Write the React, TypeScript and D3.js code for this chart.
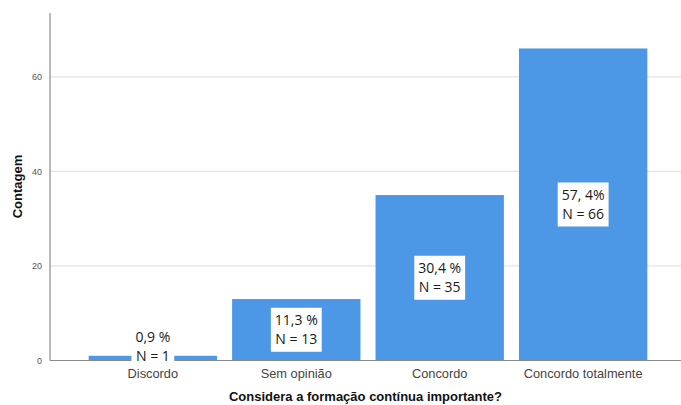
import { useEffect, useRef } from 'react';
import * as d3 from 'd3';

const categories = ['Discordo', 'Sem opinião', 'Concordo', 'Concordo totalmente'];
const counts = [1, 13, 35, 66];
const pctLabels = ['0,9 %', '11,3 %', '30,4 %', '57, 4%'];
const nLabels = ['N = 1', 'N = 13', 'N = 35', 'N = 66'];
const yTicks = [0, 20, 40, 60];

const App = () => {
  const svgRef = useRef<SVGSVGElement>(null);

  useEffect(() => {
    const width = 681;
    const height = 405;
    const svg = d3.select(svgRef.current).attr('width', width).attr('height', height);
    svg.selectAll('*').remove();

    const left = 50;
    const right = 681;
    const y = d3.scaleLinear().domain([0, 73.5]).range([360.5, 13]);
    const x = d3
      .scaleBand()
      .domain(categories)
      .range([81.5, 654.5])
      .paddingInner(0.105)
      .paddingOuter(0.05);

    // gridlines
    svg
      .selectAll('line.grid')
      .data(yTicks.filter((t) => t > 0))
      .enter()
      .append('line')
      .attr('x1', left)
      .attr('x2', right)
      .attr('y1', (d) => y(d))
      .attr('y2', (d) => y(d))
      .attr('stroke', '#e3e3e3')
      .attr('stroke-width', 1.2);

    // bars
    svg
      .selectAll('rect.bar')
      .data(counts)
      .enter()
      .append('rect')
      .attr('x', (d, i) => x(categories[i])!)
      .attr('width', x.bandwidth())
      .attr('y', (d) => y(d))
      .attr('height', (d) => y(0) - y(d))
      .attr('fill', '#4d98e6');

    // axes lines
    svg
      .append('line')
      .attr('x1', left)
      .attr('x2', left)
      .attr('y1', y.range()[1])
      .attr('y2', y(0))
      .attr('stroke', '#8a8a8a')
      .attr('stroke-width', 1.2);
    svg
      .append('line')
      .attr('x1', left)
      .attr('x2', right)
      .attr('y1', y(0))
      .attr('y2', y(0))
      .attr('stroke', '#8a8a8a')
      .attr('stroke-width', 1.2);

    // y tick labels
    svg
      .selectAll('text.ytick')
      .data(yTicks)
      .enter()
      .append('text')
      .attr('x', left - 8)
      .attr('y', (d) => y(d))
      .attr('dy', '0.35em')
      .attr('text-anchor', 'end')
      .style('font-family', 'Liberation Sans, Arial, sans-serif')
      .style('font-size', '9px')
      .style('fill', '#555')
      .text((d) => d);

    // x tick labels
    svg
      .selectAll('text.xtick')
      .data(categories)
      .enter()
      .append('text')
      .attr('x', (d) => x(d)! + x.bandwidth() / 2)
      .attr('y', 378)
      .attr('text-anchor', 'middle')
      .style('font-family', 'Liberation Sans, Arial, sans-serif')
      .style('font-size', '12.8px')
      .style('fill', '#444')
      .text((d) => d);

    // axis titles
    svg
      .append('text')
      .attr('x', (left + right) / 2)
      .attr('y', 401)
      .attr('text-anchor', 'middle')
      .style('font-family', 'Liberation Sans, Arial, sans-serif')
      .style('font-size', '13px')
      .style('font-weight', 'bold')
      .style('fill', '#111')
      .text('Considera a formação contínua importante?');
    svg
      .append('text')
      .attr('transform', `translate(22,${(13 + 360) / 2}) rotate(-90)`)
      .attr('text-anchor', 'middle')
      .style('font-family', 'Liberation Sans, Arial, sans-serif')
      .style('font-size', '13px')
      .style('font-weight', 'bold')
      .style('fill', '#111')
      .text('Contagem');

    // data labels
    counts.forEach((c, i) => {
      const cx = x(categories[i])! + x.bandwidth() / 2;
      const boxH = 44;
      let cy = (y(c) + y(0)) / 2;
      if (y(0) - y(c) < boxH) cy = y(0) - boxH / 2 + 8;
      const g = svg.append('g').attr('transform', `translate(${cx},${cy})`);
      const rect = g.append('rect').attr('fill', '#fff');
      const t1 = g
        .append('text')
        .attr('y', -9.5)
        .attr('dy', '0.35em')
        .attr('text-anchor', 'middle')
        .style('font-family', 'Open Sans, sans-serif')
        .style('font-size', '14px')
        .style('fill', '#1a1a1a')
        .text(pctLabels[i]);
      const t2 = g
        .append('text')
        .attr('y', 9.5)
        .attr('dy', '0.35em')
        .attr('text-anchor', 'middle')
        .style('font-family', 'Open Sans, sans-serif')
        .style('font-size', '14px')
        .style('fill', '#1a1a1a')
        .text(nLabels[i]);
      const w =
        Math.max(
          (t1.node() as SVGTextElement).getComputedTextLength(),
          (t2.node() as SVGTextElement).getComputedTextLength()
        ) + 8;
      rect
        .attr('x', -w / 2)
        .attr('width', w)
        .attr('y', -boxH / 2)
        .attr('height', boxH);
    });
  }, []);

  return (
    <div style={{ position: 'absolute', left: 0, top: 0 }}>
      <svg ref={svgRef}></svg>
    </div>
  );
};

export default App;
